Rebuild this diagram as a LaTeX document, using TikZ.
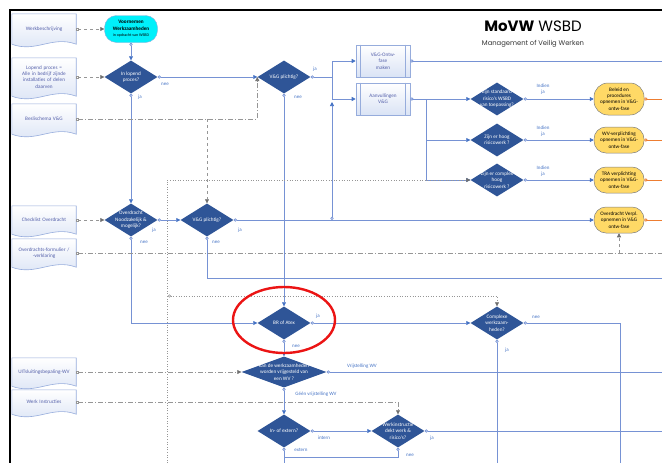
\documentclass[tikz,border=0pt]{standalone}
\usepackage{fontspec}
\setmainfont{Carlito}
\newfontfamily\titlefont{Poppins}
\usetikzlibrary{shapes.geometric,arrows.meta,calc,backgrounds}

\definecolor{lineblue}{RGB}{118,146,212}
\definecolor{tipblue}{RGB}{68,114,196}
\definecolor{decblue}{RGB}{47,85,151}
\definecolor{doctext}{RGB}{84,96,170}
\definecolor{docedge}{RGB}{150,172,220}
\definecolor{docshade}{RGB}{218,227,245}
\definecolor{infogray}{RGB}{150,150,150}
\definecolor{tipgray}{RGB}{110,110,110}
\definecolor{termcyan}{RGB}{0,240,250}
\definecolor{termyellow}{RGB}{255,217,102}
\definecolor{outorange}{RGB}{237,125,49}
\definecolor{ringred}{RGB}{235,20,20}

\tikzset{
  txt/.style={font=\fontsize{5.2}{6.4}\selectfont, align=center},
  doc/.style={txt, rectangle, minimum width=64pt, minimum height=#1, text width=62pt, inner sep=0pt, text=doctext},
  doc/.default=30pt,
  dec/.style={diamond, fill=decblue, minimum width=53pt, minimum height=33pt, inner sep=0pt},
  dectext/.style={txt, text=white, inner sep=0pt},
  proc/.style={txt, rectangle, draw=docedge, line width=0.6pt, top color=white, bottom color=docshade, minimum width=54pt, minimum height=32pt, text=doctext},
  term/.style={txt, rectangle, rounded corners=12pt, draw=gray, line width=0.5pt, minimum width=50pt, minimum height=26pt, fill=termyellow, text=black, inner sep=1pt},
  lbl/.style={font=\fontsize{5}{6}\selectfont, text=tipblue, inner sep=0pt, align=center},
  flow/.style={lineblue, line width=0.7pt},
  go/.style={-{Triangle[length=4pt,width=4pt,color=tipblue]}},
  pgo/.style={{Circle[length=3.2pt,fill=white]}-{Triangle[length=4pt,width=4pt,color=tipblue]}},
  pend/.style={{Circle[length=3.2pt,fill=white]}-},
  info/.style={infogray, line width=0.6pt},
  itip/.style={-{Triangle[length=4pt,width=4pt,color=tipgray]}},
  igo/.style={{Square[length=2.4pt,fill=white]}-{Triangle[length=4pt,width=4pt,color=tipgray]}},
  infodash/.style={dash pattern=on 5pt off 2pt on 1pt off 2pt},
}

\begin{document}
\begin{tikzpicture}[x=1pt, y=-1pt]
\useasboundingbox (0,0) rectangle (662,463);

% frame and title
\draw[line width=1.6pt] (662,10) -- (10,10) -- (10,463);
\node[font=\titlefont\fontsize{15}{15}\selectfont] (ttl) at (533,26) {\textbf{MoVW} WSBD};
\node[font=\titlefont\fontsize{6.8}{8}\selectfont, text=black!80] (sub) at (533,44) {Management of Veilig Werken};

% fixed points at the edges
\coordinate (rim) at (662,0);
\coordinate (foot) at (0,463);
\coordinate (split) at (332,77);
\coordinate (merge) at (332,220);
\coordinate (fork) at (426,99);
\coordinate (vgfoot) at (662,278);
\coordinate (cwfoot) at (620,463);
\coordinate (wback) at (284,457);
\coordinate (dotfoot) at (167,463);
\coordinate (dotstart) at (168,296);

% documents
\node[doc] (wb) at (44,29) {Werkbeschrijving};
\node[doc=38pt] (lp) at (44,77) {Lopend proces =\\Alle in bedrijf zijnde\\installaties of delen\\daarven};
\node[doc] (bs) at (44,119) {Beslischema V\&G};
\node[doc=28pt] (co) at (44,220) {Checklist Overdracht};
\node[doc=28pt] (of) at (44,253) {Overdrachts-formulier /\\-verklaring};
\node[doc=28pt] (ui) at (44,372) {UITsluitingsbepaling-WV};
\node[doc=24pt] (wi) at (44,402) {Werk Instructies};
\begin{scope}[on background layer]
\foreach \d in {wb,lp,bs,co,of,ui,wi}
  \draw[docedge, line width=0.6pt, top color=white, bottom color=docshade]
    (\d.south west) -- (\d.north west) -- (\d.north east) -- (\d.south east)
    .. controls ($(\d.south east)+(-24,-9)$) and ($(\d.south west)+(24,9)$) .. (\d.south west) -- cycle;
\end{scope}

% start
\node[txt, rectangle, rounded corners=12pt, draw=docedge, fill=termcyan, minimum width=53pt, minimum height=27pt, inner sep=1pt] (vw) at (131,29)
  {\textbf{Voornemen}\\\textbf{Werkzaamheden}\\{\fontsize{4}{5}\selectfont in opdracht van WSBD}};

% decisions
\node[dec, label={[dectext]center:{In lopend\\proces?}}] (ilp) at (131,77) {};
\node[dec, label={[dectext]center:{V\&G plichtig?}}] (vgp) at (284,77) {};
\node[dec, label={[dectext]center:{Overdracht\\Noodzakelijk \&\\mogelijk?}}] (ovn) at (131,220) {};
\node[dec, label={[dectext]center:{V\&G plichtig?}}] (vgp2) at (207,220) {};
\node[dec, label={[dectext]center:{Zijn standaard\\risico's WSBD\\van toepassing?}}] (std) at (497,99) {};
\node[dec, label={[dectext]center:{Zijn er hoog\\risicowerk ?}}] (hoog) at (497,140) {};
\node[dec, label={[dectext]center:{Zijn er complex\\hoog\\risicowerk ?}}] (cplx) at (497,180) {};
\node[dec, label={[dectext]center:{BR of Atex}}] (br) at (284,323) {};
\node[dec, label={[dectext]center:{Complexe\\werkzaam-\\heden?}}] (cw) at (497,323) {};
\node[dec, minimum width=85pt, minimum height=31pt, label={[dectext]center:{Kan de werkzaamheden\\worden vrijgesteld van\\een WV ?}}] (kan) at (284,372) {};
\node[dec, label={[dectext]center:{In- of extern?}}] (ioe) at (284,431) {};
\node[dec, label={[dectext]center:{Werkinstructie\\dekt werk \&\\risico's?}}] (wid) at (398,431) {};

% processes
\node[proc] (ontw) at (383,61) {V\&G-Ontw-\\fase\\maken};
\node[proc] (aanv) at (383,99) {Aanvullingen\\V\&G};
\foreach \b in {ontw,aanv} {
  \draw[docedge, line width=0.5pt] ($(\b.north west)+(5,0)$) -- ($(\b.south west)+(5,0)$);
  \draw[docedge, line width=0.5pt] ($(\b.north east)+(-5,0)$) -- ($(\b.south east)+(-5,0)$);
}

% outcomes
\node[term, minimum height=32pt, rounded corners=14pt] (bel) at (619,99) {Beleid en\\procedures\\opnemen in V\&G-\\ontw-fase};
\node[term] (wvv) at (619,140) {WV-verplichting\\opnemen in V\&G-\\ontw-fase};
\node[term] (tra) at (619,180) {TRA verplichting\\opnemen in V\&G-\\ontw-fase};
\node[term] (ovv) at (619,220) {Overdracht Verpl.\\opnemen in V\&G\\ontw-fase};

% flow
\draw[flow, pgo] (vw.south) -- (ilp.north);
\draw[flow, pgo] (ilp.east) -- (vgp.west);
\draw[flow, pgo] (ilp.south) -- (ovn.north);
\draw[flow, pend] (vgp.east) -- (split);
\draw[flow, go] (split) |- (ontw.west);
\draw[flow, go] (split) |- (aanv.west);
\draw[flow, pgo] (merge) -- ($(split |- aanv.west)+(0,3)$);
\draw[flow, pgo] (vgp.south) -- (br.north);
\draw[flow, pend] (ontw.east) -- (ontw.east -| rim);
\draw[flow, pgo] (aanv.east) -- (std.west);
\draw[flow, go] (fork) |- (hoog.west);
\draw[flow, go] (fork) |- (cplx.west);
\draw[flow, pgo] (std.east) -- (bel.west);
\draw[flow, pgo] (hoog.east) -- (wvv.west);
\draw[flow, pgo] (cplx.east) -- (tra.west);
\foreach \t in {bel,wvv,tra,ovv}
  \draw[outorange, line width=0.7pt, {Circle[length=3.2pt,fill=white]}-] (\t.east) -- (\t.east -| rim);
\draw[flow, pgo] (ovn.east) -- (vgp2.west);
\draw[flow, pgo] (ovn.south) |- (br.west);
\draw[flow, pgo] (vgp2.east) -- (ovv.west);
\draw[flow, pend] (vgp2.south) |- (vgfoot);
\draw[flow, pgo] (br.east) -- (cw.west);
\draw[flow, pgo] (br.south) -- (kan.north);
\draw[flow, pend] (cw.east) -| (cwfoot);
\draw[flow, pend] (cw.south) -- (cw.south |- foot);
\draw[flow, pend] (kan.east) -- (kan.east -| rim);
\draw[flow, pgo] (kan.south) -- (ioe.north);
\draw[flow, pgo] (ioe.east) -- (wid.west);
\draw[flow, pend] (ioe.south) -- (ioe.south |- foot);
\draw[flow, pend] (wid.east) -- (wid.east -| rim);
\draw[flow, pend] (wid.south) |- (wback);

% information lines
\draw[info, dashed, igo] (wb.east) -- (vw.west);
\draw[info, dashed, igo] (lp.east) -- (ilp.west);
\draw[info, dashed, igo] (co.east) -- (ovn.west);
\draw[info, infodash, igo] (bs.east) -| (vgp.west);
\draw[info, dashed, itip] (bs.east -| vgp2.north) -- (vgp2.north);
\draw[info, infodash, {Square[length=2.4pt,fill=white]}-] (of.east) -- (of.east -| rim);
\draw[info, dashed, itip] (of.east -| ovv.south) -- (ovv.south);
\draw[info, infodash, igo] (ui.east) -- (kan.west);
\draw[info, infodash, igo] (wi.east) -| (wid.north);
\draw[info, dotted, itip] (dotfoot) |- (cplx.west);
\draw[info, dotted, {Circle[length=3pt,fill=white]}-{Triangle[length=4pt,width=4pt,color=tipgray]}] (dotstart) -| (cw.north);

% answers
\node[lbl] (ilpno) at (165,84) {nee};
\node[lbl] (ilpyes) at (140,97) {ja};
\node[lbl] (vgpyes) at (315,69) {ja};
\node[lbl] (vgpno) at (298,97) {nee};
\node[lbl] (ovnyes) at (154,230) {ja};
\node[lbl] (ovnno) at (144,242) {nee};
\node[lbl] (vgp2yes) at (240,230) {ja};
\node[lbl] (vgp2no) at (216,242) {nee};
\node[lbl] (bryes) at (318,316) {ja};
\node[lbl] (brno) at (296,346) {nee};
\node[lbl] (cwno) at (536,317) {nee};
\node[lbl] (cwyes) at (507,350) {ja};
\node[lbl] (kanyes) at (362,366) {Vrijstelling WV};
\node[lbl] (kanno) at (316,394) {Géén vrijstelling WV};
\node[lbl] (ioein) at (324,438) {intern};
\node[lbl] (ioeout) at (301,450) {extern};
\node[lbl] (widyes) at (432,438) {ja};
\node[lbl] (widno) at (410,455) {nee};
\foreach \d/\y in {std/89, hoog/131, cplx/171}
  \node[lbl] (\d-if) at (543,\y) {Indien\\ja};

% highlight
\draw[ringred, line width=2.4pt] ($(br.center)+(0,-3)$) ellipse [x radius=51pt, y radius=33pt];
\end{tikzpicture}
\end{document}
